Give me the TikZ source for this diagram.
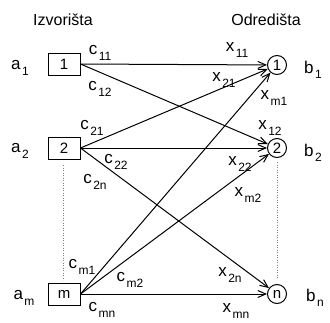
\documentclass[tikz,border=0pt]{standalone}
\usepackage{fontspec}
\setmainfont{Liberation Sans}
\usetikzlibrary{arrows.meta}
\newcommand\lbl[2]{#1\kern1.5pt\raisebox{-5.5pt}{\fontsize{12}{12}\selectfont #2}}
\begin{document}
\begin{tikzpicture}[x=1pt,y=-1pt,
  src/.style={draw,line width=1pt,minimum width=32pt,minimum height=22pt,inner sep=0pt,font=\fontsize{15}{15}\selectfont},
  dst/.style={draw,circle,line width=1pt,minimum size=19pt,inner sep=0pt,font=\fontsize{15}{15}\selectfont},
  edge/.style={line width=1pt,-{Straight Barb[length=8pt,width=7pt,line width=1pt]}},
  txt/.style={font=\fontsize{17}{17}\selectfont,inner sep=0pt},
  head/.style={font=\fontsize{16}{16}\selectfont,inner sep=0pt},
  dots/.style={dotted,line width=0.5pt,gray}]
\useasboundingbox (0,0) rectangle (330,322);
\node[head] (hs) at (63,20) {Izvorišta};
\node[head] (hd) at (266,20) {Odredišta};
\node[src] (s1) at (64,64) {1};
\node[src] (s2) at (64,148) {2};
\node[src] (sm) at (64,294) {m};
\node[dst] (d1) at (277,65) {1};
\node[dst] (d2) at (277,148) {2};
\node[dst] (dn) at (277,294) {n};
\node[txt] (a1) at (20,68) {\lbl{a}{1}};
\node[txt] (a2) at (20,151) {\lbl{a}{2}};
\node[txt] (am) at (24,298) {\lbl{a}{m}};
\node[txt] (b1) at (313,70) {\lbl{b}{1}};
\node[txt] (b2) at (313,153) {\lbl{b}{2}};
\node[txt] (bn) at (315,298) {\lbl{b}{n}};
\coordinate (l1) at (63,165);
\coordinate (l2) at (63,280);
\coordinate (r1) at (277,162);
\coordinate (r2) at (277,278);
\draw[dots] (l1) -- (l2);
\draw[dots] (r1) -- (r2);
\draw[edge] (s1.east) -- (d1);
\draw[edge] (s1.east) -- (d2);
\draw[edge] (s2.east) -- (d1);
\draw[edge] (s2.east) -- (d2);
\draw[edge] (s2.east) -- (dn);
\draw[edge] (sm.east) -- (d1);
\draw[edge] (sm.east) -- (d2);
\draw[edge] (sm.east) -- (dn);
\node[txt] (c11) at (100,53) {\lbl{c}{11}};
\node[txt] (c12) at (100,89) {\lbl{c}{12}};
\node[txt] (c21) at (92,128) {\lbl{c}{21}};
\node[txt] (c22) at (116,162) {\lbl{c}{22}};
\node[txt] (c2n) at (95,182) {\lbl{c}{2n}};
\node[txt] (cm1) at (82,267) {\lbl{c}{m1}};
\node[txt] (cm2) at (130,280) {\lbl{c}{m2}};
\node[txt] (cmn) at (102,310) {\lbl{c}{mn}};
\node[txt] (x11) at (237,50) {\lbl{x}{11}};
\node[txt] (x21) at (224,80) {\lbl{x}{21}};
\node[txt] (xm1) at (274,98) {\lbl{x}{m1}};
\node[txt] (x12) at (270,128) {\lbl{x}{12}};
\node[txt] (x22) at (240,164) {\lbl{x}{22}};
\node[txt] (xm2) at (248,195) {\lbl{x}{m2}};
\node[txt] (x2n) at (230,275) {\lbl{x}{2n}};
\node[txt] (xmn) at (236,311) {\lbl{x}{mn}};
\end{tikzpicture}
\end{document}
